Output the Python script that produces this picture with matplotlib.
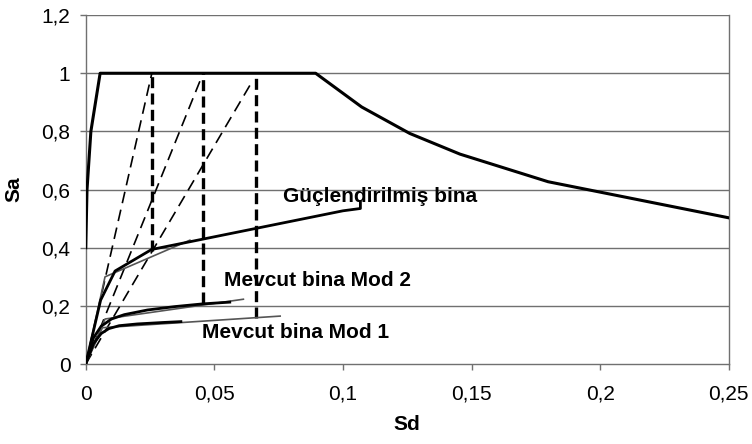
import matplotlib.pyplot as plt
from matplotlib.ticker import FuncFormatter

plt.rcParams['font.family'] = ['Liberation Sans', 'DejaVu Sans']

# elastic demand spectrum (Sa-Sd)
spec_sd = [0.0, 0.0005, 0.002, 0.0056, 0.0894, 0.1073, 0.126, 0.1455, 0.1798, 0.25]
spec_sa = [0.40, 0.60, 0.80, 1.00, 1.00, 0.884, 0.793, 0.722, 0.627, 0.503]

# capacity curves
gucl_sd = [0.0, 0.0058, 0.0114, 0.0256, 0.100, 0.1068, 0.1068]
gucl_sa = [0.0, 0.22, 0.32, 0.394, 0.527, 0.535, 0.556]
gucl_bl_sd = [0.0, 0.0075, 0.0405]
gucl_bl_sa = [0.0, 0.30, 0.426]

mod2_sd = [0.0, 0.003, 0.006, 0.010, 0.015, 0.024, 0.035, 0.0455, 0.056]
mod2_sa = [0.0, 0.09, 0.13, 0.155, 0.170, 0.186, 0.198, 0.207, 0.213]
mod2_bl_sd = [0.0, 0.0075, 0.0613]
mod2_bl_sa = [0.0, 0.155, 0.223]

mod1_sd = [0.0, 0.003, 0.006, 0.009, 0.013, 0.020, 0.030, 0.037]
mod1_sa = [0.0, 0.07, 0.105, 0.122, 0.132, 0.138, 0.143, 0.146]
mod1_bl_sd = [0.0, 0.0065, 0.0756]
mod1_bl_sa = [0.0, 0.125, 0.165]

# radial period lines and performance points
ray_sd = [0.0257, 0.0445, 0.0648]
ray_sa = [1.00, 0.975, 0.973]
perf_sd = [0.0256, 0.0455, 0.0662]
perf_sa = [0.39, 0.21, 0.158]

fig = plt.figure(figsize=(7.52, 4.44), dpi=100)
ax = fig.add_axes([0.114, 0.180, 0.855, 0.786])

for y in [0.2, 0.4, 0.6, 0.8, 1.0, 1.2]:
    ax.axhline(y, color='#707070', lw=1.0, zorder=0)

for sd, sa in zip(ray_sd, ray_sa):
    ax.plot([0, sd], [0, sa], color='black', lw=1.2, dashes=(7, 4), zorder=2)
for sd, sa in zip(perf_sd, perf_sa):
    ax.plot([sd, sd], [sa, 1.0], color='black', lw=2.4, dashes=(3.3, 1.6), zorder=2)

ax.plot(spec_sd, spec_sa, color='black', lw=2.2, zorder=3)

ax.plot(gucl_bl_sd, gucl_bl_sa, color='#555555', lw=1.2, zorder=3)
ax.plot(gucl_sd, gucl_sa, color='black', lw=2.0, zorder=3)
ax.plot(mod2_bl_sd, mod2_bl_sa, color='#555555', lw=1.2, zorder=3)
ax.plot(mod2_sd, mod2_sa, color='black', lw=2.0, zorder=3)
ax.plot(mod1_bl_sd, mod1_bl_sa, color='#555555', lw=1.2, zorder=3)
ax.plot(mod1_sd, mod1_sa, color='black', lw=2.0, zorder=3)

ax.text(0.0768, 0.577, 'Güçlendirilmiş bina', fontsize=15, fontweight='bold', va='center')
ax.text(0.0537, 0.289, 'Mevcut bina Mod 2', fontsize=15, fontweight='bold', va='center')
ax.text(0.0451, 0.107, 'Mevcut bina Mod 1', fontsize=15, fontweight='bold', va='center')

ax.set_xlim(0, 0.25)
ax.set_ylim(0, 1.2)
ax.set_xticks([0, 0.05, 0.1, 0.15, 0.2, 0.25])
ax.set_yticks([0, 0.2, 0.4, 0.6, 0.8, 1.0, 1.2])
fmt = FuncFormatter(lambda v, p: ('%g' % round(v, 3)).replace('.', ','))
ax.xaxis.set_major_formatter(fmt)
ax.yaxis.set_major_formatter(fmt)
ax.tick_params(axis='both', direction='out', length=4, width=1, color='#707070',
               labelsize=15)
ax.tick_params(axis='x', pad=11)
ax.tick_params(axis='y', pad=7)

for s in ['left', 'bottom', 'right']:
    ax.spines[s].set_color('#707070')
    ax.spines[s].set_linewidth(1.0)
ax.spines['top'].set_visible(False)

ax.set_xlabel('Sd', fontsize=15, fontweight='bold', labelpad=8)
ax.set_ylabel('Sa', fontsize=15, fontweight='bold', labelpad=13)

fig.savefig('out.png', dpi=100)
